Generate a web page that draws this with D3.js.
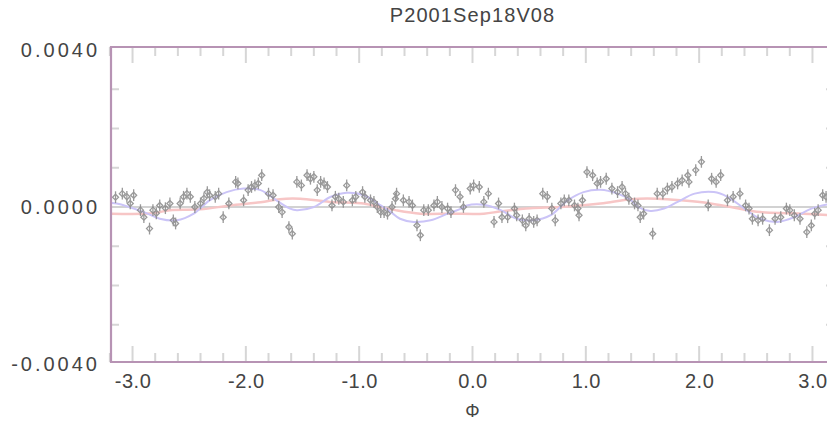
<!DOCTYPE html>
<html>
<head>
<meta charset="utf-8">
<script src="https://cdn.jsdelivr.net/npm/d3@7"></script>
<style>
  body { margin: 0; background: #fff; }
  svg { display: block; font-family: "Liberation Sans", Arial, sans-serif; }
</style>
</head>
<body>
<svg id="chart" width="827" height="437"></svg>
<script>
// ---- data ----
const title = "P2001Sep18V08";
const xLabel = "Φ";

// observed residuals vs. phase
const phase = [-3.15,-3.09,-3.05,-3.02,-2.99,-2.93,-2.90,-2.85,-2.82,-2.79,-2.76,-2.71,-2.67,-2.64,-2.62,-2.58,-2.55,-2.52,-2.49,-2.45,
  -2.40,-2.37,-2.34,-2.32,-2.27,-2.24,-2.20,-2.15,-2.09,-2.07,-2.02,-1.98,-1.95,-1.92,-1.89,-1.86,-1.80,-1.76,-1.71,-1.68,
  -1.62,-1.59,-1.55,-1.51,-1.46,-1.43,-1.40,-1.37,-1.34,-1.31,-1.28,-1.24,-1.21,-1.18,-1.14,-1.11,-1.06,-1.03,-0.97,-0.95,
  -0.90,-0.87,-0.84,-0.81,-0.78,-0.75,-0.71,-0.68,-0.67,-0.61,-0.56,-0.53,-0.49,-0.46,-0.43,-0.39,-0.34,-0.31,-0.27,-0.22,
  -0.19,-0.15,-0.11,-0.08,-0.02,0.01,0.06,0.10,0.14,0.19,0.23,0.26,0.31,0.37,0.39,0.44,0.47,0.50,0.54,0.57,
  0.62,0.66,0.70,0.73,0.78,0.81,0.85,0.90,0.93,0.94,0.97,1.01,1.06,1.10,1.13,1.18,1.23,1.28,1.32,1.35,
  1.38,1.43,1.46,1.48,1.51,1.59,1.63,1.68,1.72,1.76,1.81,1.85,1.90,1.91,1.97,2.02,2.08,2.11,2.15,2.19,
  2.25,2.30,2.36,2.41,2.44,2.47,2.52,2.56,2.62,2.67,2.72,2.77,2.80,2.84,2.89,2.95,2.99,3.02,3.05,3.09,3.12];
const flux = [0.00025,0.00034,0.00026,0.00009,0.00030,-0.00008,-0.00026,-0.00055,-0.00008,-0.00016,0.00004,-0.00003,0.00009,-0.00034,-0.00042,0.00009,0.00026,0.00034,0.00026,0.00000,
  0.00009,0.00022,0.00038,0.00030,0.00026,0.00034,-0.00026,0.00009,0.00064,0.00060,0.00017,0.00043,0.00051,0.00055,0.00060,0.00081,0.00034,0.00030,0.00000,-0.00013,
  -0.00051,-0.00068,0.00064,0.00055,0.00081,0.00072,0.00077,0.00043,0.00064,0.00060,0.00051,0.00004,0.00026,0.00021,0.00013,0.00055,0.00017,0.00026,0.00038,0.00026,
  0.00017,0.00013,0.00000,-0.00013,-0.00013,-0.00017,0.00000,0.00021,0.00034,0.00017,0.00013,0.00004,-0.00047,-0.00072,-0.00008,-0.00008,0.00004,0.00013,0.00000,-0.00004,
  -0.00013,0.00043,0.00026,0.00000,0.00047,0.00055,0.00051,0.00013,0.00034,-0.00038,0.00009,-0.00026,-0.00026,-0.00004,-0.00021,-0.00034,-0.00047,-0.00030,-0.00038,-0.00034,
  0.00034,0.00026,-0.00004,-0.00034,0.00009,0.00017,0.00017,0.00004,-0.00004,-0.00021,0.00017,0.00089,0.00081,0.00060,0.00064,0.00072,0.00047,0.00038,0.00051,0.00034,
  0.00021,0.00009,0.00004,-0.00026,-0.00017,-0.00068,0.00034,0.00034,0.00047,0.00051,0.00060,0.00068,0.00081,0.00064,0.00094,0.00115,0.00004,0.00072,0.00064,0.00081,
  0.00017,0.00026,0.00034,0.00004,-0.00004,-0.00030,-0.00034,-0.00030,-0.00059,-0.00030,-0.00026,-0.00004,-0.00008,-0.00021,-0.00030,-0.00064,-0.00047,-0.00017,-0.00008,0.00030,0.00026];
const fluxError = 0.00015;

// harmonic fit (blue)
const fitPhase = [-3.19,-3.14,-2.90,-2.76,-2.61,-2.46,-2.32,-2.17,-2.02,-1.87,-1.73,-1.61,-1.55,-1.40,-1.25,-1.11,-0.96,-0.81,-0.72,-0.64,
  -0.52,-0.37,-0.22,-0.10,-0.05,0.10,0.25,0.39,0.54,0.69,0.84,0.98,1.13,1.28,1.40,1.46,1.57,1.69,1.81,1.96,
  2.13,2.25,2.40,2.54,2.69,2.84,2.99,3.19];
const fitFlux = [0.00010,0.00009,-0.00013,-0.00030,-0.00034,-0.00017,0.00017,0.00038,0.00047,0.00043,0.00017,-0.00004,-0.00008,0.00000,0.00026,0.00036,0.00030,0.00004,-0.00013,-0.00030,
  -0.00038,-0.00034,-0.00017,-0.00004,0.00004,0.00006,-0.00008,-0.00030,-0.00034,-0.00021,0.00017,0.00038,0.00044,0.00034,0.00017,0.00000,-0.00010,-0.00004,0.00013,0.00034,
  0.00038,0.00026,-0.00004,-0.00030,-0.00038,-0.00026,-0.00004,0.00010];

// slow trend (red)
const trendPhase = [-3.19,-2.82,-2.67,-2.40,-2.14,-1.87,-1.70,-1.52,-1.26,-0.96,-0.88,-0.68,-0.46,-0.19,0.10,0.25,0.51,0.78,1.13,1.40,1.63,1.84,2.10,2.28,2.54,2.81,3.19];
const trendFlux = [-0.00017,-0.00016,-0.00008,-0.00006,0.00004,0.00012,0.00020,0.00021,0.00013,0.00009,0.00004,-0.00008,-0.00017,-0.00017,-0.00017,-0.00011,-0.00003,0.00000,0.00009,0.00020,0.00021,0.00017,0.00009,0.00000,-0.00013,-0.00016,-0.00021];

const xTickValues = [-3, -2, -1, 0, 1, 2, 3];
const yTickValues = [-0.004, 0, 0.004];

// ---- layout ----
const frame = { left: 111, right: 834, top: 47, bottom: 362 };

const svg = d3.select("#chart");
const x = d3.scaleLinear().domain([-3.19, 3.19]).range([frame.left, frame.right]);
const y = d3.scaleLinear().domain([-0.004, 0.004]).range([364, 50]);

const tickColor = "#d6d6d6";
const textColor = "#444";

// title
svg.append("text")
  .attr("x", x(0)).attr("y", 22)
  .attr("text-anchor", "middle")
  .attr("font-size", 20)
  .attr("letter-spacing", 1.1)
  .attr("fill", textColor)
  .text(title);

// inner tick marks (x: top and bottom, y: left and right)
const ticksG = svg.append("g").attr("stroke", tickColor).attr("stroke-width", 2);
const xMinor = d3.range(-32, 33, 2).map(d => d / 10);
xMinor.forEach(v => {
  const major = Math.abs(v - Math.round(v)) < 1e-9;
  const len = major ? 16 : 9;
  ticksG.append("line").attr("x1", x(v)).attr("x2", x(v))
    .attr("y1", frame.bottom).attr("y2", frame.bottom - len);
  ticksG.append("line").attr("x1", x(v)).attr("x2", x(v))
    .attr("y1", frame.top).attr("y2", frame.top + len);
});
const yMinor = d3.range(-3, 4).map(d => d * 0.001);
yMinor.forEach(v => {
  ticksG.append("line").attr("x1", frame.left).attr("x2", frame.left + 8)
    .attr("y1", y(v)).attr("y2", y(v));
  ticksG.append("line").attr("x1", frame.right).attr("x2", frame.right - 8)
    .attr("y1", y(v)).attr("y2", y(v));
});

// zero reference line
svg.append("line")
  .attr("x1", frame.left).attr("x2", frame.right)
  .attr("y1", y(0)).attr("y2", y(0))
  .attr("stroke", "#d2d2d2").attr("stroke-width", 2);

// trend line
const line = d3.line().x(d => x(d[0])).y(d => y(d[1])).curve(d3.curveCatmullRom.alpha(0.5));
svg.append("path")
  .datum(d3.zip(trendPhase, trendFlux))
  .attr("d", line)
  .attr("fill", "none")
  .attr("stroke", "#f7c6c6")
  .attr("stroke-width", 2.5);

// fit line
svg.append("path")
  .datum(d3.zip(fitPhase, fitFlux))
  .attr("d", line)
  .attr("fill", "none")
  .attr("stroke", "#cbc4f7")
  .attr("stroke-width", 2);

// observations: diamond with error bar
const pts = svg.append("g")
  .attr("stroke", "#888")
  .attr("stroke-width", 1.3)
  .attr("fill", "none")
  .attr("opacity", 0.85);
d3.zip(phase, flux).forEach(([p, f]) => {
  const cx = x(p), cy = y(f);
  pts.append("line")
    .attr("x1", cx).attr("x2", cx)
    .attr("y1", y(f - fluxError)).attr("y2", y(f + fluxError));
  pts.append("path")
    .attr("d", `M${cx},${cy - 3}L${cx + 3},${cy}L${cx},${cy + 3}L${cx - 3},${cy}Z`);
});

// frame
svg.append("path")
  .attr("d", `M${frame.right},${frame.top}H${frame.left}V${frame.bottom}H${frame.right}`)
  .attr("fill", "none")
  .attr("stroke", "#b793b4")
  .attr("stroke-width", 2.2);

// axis labels via d3 axes
const xAxis = d3.axisBottom(x).tickValues(xTickValues).tickFormat(d => d.toFixed(1)).tickSize(0).tickPadding(12);
svg.append("g")
  .attr("transform", `translate(0,${frame.bottom})`)
  .call(xAxis)
  .call(g => g.select(".domain").remove())
  .call(g => g.selectAll("text").attr("font-size", 20).attr("fill", textColor)
    .attr("letter-spacing", 0.5)
    .attr("font-family", "'Liberation Sans', Arial, sans-serif"));

const yAxis = d3.axisLeft(y).tickValues(yTickValues).tickFormat(d => d.toFixed(4)).tickSize(0).tickPadding(11);
svg.append("g")
  .attr("transform", `translate(${frame.left},0)`)
  .call(yAxis)
  .call(g => g.select(".domain").remove())
  .call(g => g.selectAll("text").attr("font-size", 20).attr("fill", textColor)
    .attr("letter-spacing", 3)
    .attr("font-family", "'Liberation Sans', Arial, sans-serif"));

svg.append("text")
  .attr("x", x(0)).attr("y", 417)
  .attr("text-anchor", "middle")
  .attr("font-size", 18)
  .attr("fill", textColor)
  .text(xLabel);
</script>
</body>
</html>
